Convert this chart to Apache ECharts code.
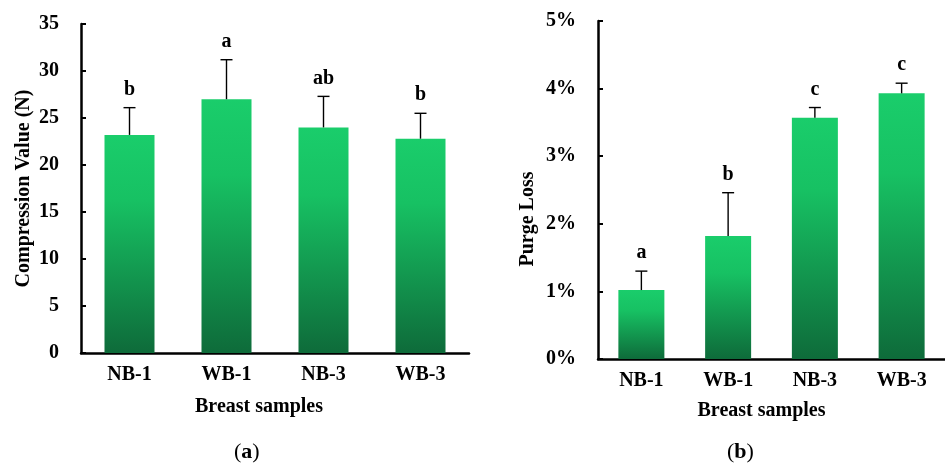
<!DOCTYPE html>
<html>
<head>
<meta charset="utf-8">
<script src="https://cdn.jsdelivr.net/npm/echarts@6/dist/echarts.min.js"></script>
<style>
html,body{margin:0;padding:0;background:#fff;}
#chart{width:945px;height:464px;}
</style>
</head>
<body>
<div id="chart"></div>
<script>
var categories = ['NB-1', 'WB-1', 'NB-3', 'WB-3'];
var compression = [23.2, 27.0, 24.0, 22.8];
var compressionErr = [2.9, 4.2, 3.3, 2.7];
var compressionLetters = ['b', 'a', 'ab', 'b'];
var purge = [1.02, 1.82, 3.57, 3.93];
var purgeErr = [0.28, 0.64, 0.15, 0.15];
var purgeLetters = ['a', 'b', 'c', 'c'];
var compressionTicks = { min: 0, max: 35, interval: 5 };
var purgeTicks = { min: 0, max: 5, interval: 1 };

var FONT = '"Liberation Serif", "Times New Roman", serif';
var grad = new echarts.graphic.LinearGradient(0, 0, 0, 1, [
  { offset: 0, color: '#1ACD6B' },
  { offset: 0.3, color: '#17C163' },
  { offset: 1, color: '#0E6B3A' }
]);

function errSeries(xIdx, yIdx, vals, errs, letters) {
  var data = vals.map(function (v, i) { return [i, v, v + errs[i], letters[i]]; });
  return {
    type: 'custom',
    xAxisIndex: xIdx,
    yAxisIndex: yIdx,
    data: data,
    z: 10,
    renderItem: function (params, api) {
      var i = api.value(0);
      var base = api.coord([i, api.value(1)]);
      var top = api.coord([i, api.value(2)]);
      var half = 6;
      return {
        type: 'group',
        children: [
          { type: 'line', shape: { x1: base[0], y1: base[1], x2: top[0], y2: top[1] }, style: { stroke: '#000', lineWidth: 1.4 } },
          { type: 'line', shape: { x1: top[0] - half, y1: top[1], x2: top[0] + half, y2: top[1] }, style: { stroke: '#000', lineWidth: 1.4 } },
          { type: 'text', style: { text: letters[i], x: top[0], y: top[1] - 18, textAlign: 'center', textVerticalAlign: 'middle', font: 'bold 20px ' + FONT, fill: '#000' } }
        ]
      };
    }
  };
}

function xAx(gridIndex, gap, shift) {
  return {
    type: 'category', gridIndex: gridIndex, data: categories,
    axisLine: { lineStyle: { color: '#000', width: 2.5 } },
    axisTick: { show: false },
    axisLabel: { color: '#000', fontFamily: FONT, fontWeight: 'bold', fontSize: 20, margin: 12 },
    name: 'Breast samples', nameLocation: 'middle', nameGap: gap,
    nameTextStyle: { color: '#000', fontFamily: FONT, fontWeight: 'bold', fontSize: 20, padding: [0, shift, 0, 0] }
  };
}

function yAx(gridIndex, ticks, name, gap, fmt, pad) {
  return {
    type: 'value', gridIndex: gridIndex, min: ticks.min, max: ticks.max, interval: ticks.interval,
    splitLine: { show: false },
    axisLine: { show: true, lineStyle: { color: '#000', width: 2.5 } },
    axisTick: { show: true, inside: true, length: 5, lineStyle: { color: '#000', width: 2 } },
    axisLabel: { color: '#000', fontFamily: FONT, fontWeight: 'bold', fontSize: 20, margin: 22, formatter: fmt },
    name: name, nameLocation: 'middle', nameGap: gap,
    nameTextStyle: { color: '#000', fontFamily: FONT, fontWeight: 'bold', fontSize: 20, padding: pad }
  };
}

var chart = echarts.init(document.getElementById('chart'), null, { renderer: 'canvas' });
chart.setOption({
  backgroundColor: '#fff',
  animation: false,
  grid: [
    { left: 81, top: 24, width: 388, height: 329 },
    { left: 598, top: 21, width: 359, height: 338 }
  ],
  xAxis: [xAx(0, 44, 32), xAx(1, 42, 20)],
  yAxis: [
    yAx(0, compressionTicks, 'Compression Value (N)', 47, '{value}', 0),
    yAx(1, purgeTicks, 'Purge Loss', 60, '{value}%', [0, 58, 0, 0])
  ],
  series: [
    { type: 'bar', xAxisIndex: 0, yAxisIndex: 0, data: compression, barWidth: 50, itemStyle: { color: grad } },
    { type: 'bar', xAxisIndex: 1, yAxisIndex: 1, data: purge, barWidth: 46, itemStyle: { color: grad } },
    errSeries(0, 0, compression, compressionErr, compressionLetters),
    errSeries(1, 1, purge, purgeErr, purgeLetters)
  ],
  graphic: [
    { type: 'text', left: 234, top: 441, style: { text: '({b|a})', font: '22px ' + FONT, fill: '#000', rich: { b: { fontWeight: 'bold', fontSize: 22, fontFamily: FONT } } } },
    { type: 'text', left: 727, top: 441, style: { text: '({b|b})', font: '22px ' + FONT, fill: '#000', rich: { b: { fontWeight: 'bold', fontSize: 22, fontFamily: FONT } } } }
  ]
});
</script>
</body>
</html>
